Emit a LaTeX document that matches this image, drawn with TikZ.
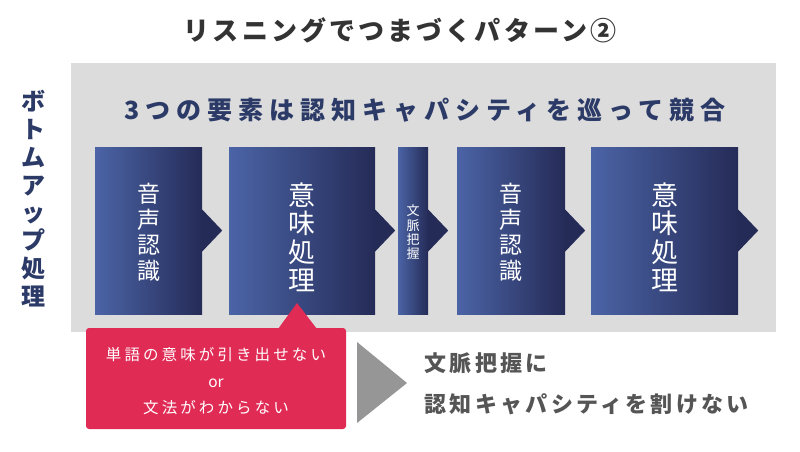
\documentclass[tikz,border=0pt]{standalone}
\usepackage{fontspec}
\setmainfont{Noto Sans CJK JP}
\newfontfamily\jpsp{Noto Sans CJK JP}[LetterSpace=12]
\newfontfamily\jpspr{Noto Sans CJK JP}[LetterSpace=15]
\newfontfamily\jpsph{Noto Sans CJK JP}[LetterSpace=24]
\newfontfamily\jpspw{Noto Sans CJK JP}[LetterSpace=20]
\definecolor{panelc}{HTML}{DCDCDC}
\definecolor{navyc}{HTML}{2B3A67}
\definecolor{boxL}{HTML}{4B64A6}
\definecolor{boxR}{HTML}{252B57}
\definecolor{redc}{HTML}{E02B55}
\definecolor{grayarrow}{HTML}{969696}
\definecolor{restext}{HTML}{555555}
\definecolor{titlec}{HTML}{333333}
\begin{document}
\begin{tikzpicture}[x=1pt,y=-1pt,
  stagebox/.style={rectangle, inner sep=0pt, left color=boxL, right color=boxR, minimum height=167},
  boxtext/.style={text=white, align=center},
  bigtxt/.style={font=\fontsize{23}{25.5}\selectfont},
  hugetxt/.style={font=\fontsize{27}{28.5}\selectfont},
  tinytxt/.style={font=\fontsize{13}{14.3}\selectfont},
  tipc/.style={fill=boxR},
]
\useasboundingbox (0,0) rectangle (800,451);
\fill[white] (0,0) rectangle (800,451);
\node[fill=panelc, minimum width=705, minimum height=269, inner sep=0pt, anchor=north west] (panel) at (71,63) {};

\node[text=titlec, font=\jpsp\bfseries\fontsize{26}{30}\selectfont] (title) at (400,30) {リスニングでつまづくパターン②};
\node[text=navyc, font=\jpsph\bfseries\fontsize{25}{30}\selectfont] (head) at (425,110) {3つの要素は認知キャパシティを巡って競合};
\node[text=navyc, font=\bfseries\fontsize{24}{27.8}\selectfont, align=center] (bu) at (33,198.5) {ボ\\ト\\ム\\ア\\ッ\\プ\\処\\理};

\node[stagebox, minimum width=107] (b1) at (148.5,230.5) {};
\node[stagebox, minimum width=146] (b2) at (302,230.5) {};
\node[stagebox, minimum width=30] (b3) at (413,230.5) {};
\node[stagebox, minimum width=108] (b4) at (511,230.5) {};
\node[stagebox, minimum width=147] (b5) at (664.5,230.5) {};

\node[boxtext, bigtxt] (t1) at ([yshift=-2pt]b1.center) {音\\声\\認\\識};
\node[boxtext, hugetxt] (t2) at ([yshift=-7pt]b2.center) {意\\味\\処\\理};
\node[boxtext, tinytxt] (t3) at ([yshift=-2pt]b3.center) {文\\脈\\把\\握};
\node[boxtext, bigtxt] (t4) at ([yshift=-2pt]b4.center) {音\\声\\認\\識};
\node[boxtext, hugetxt] (t5) at ([yshift=-7pt]b5.center) {意\\味\\処\\理};

\foreach \b in {b1,b2,b3,b4,b5}{
  \fill[tipc] ([yshift=21pt]\b.east) -- ([xshift=20pt]\b.east) -- ([yshift=-21pt]\b.east) -- cycle;
}

\node[fill=redc, rounded corners=3pt, minimum width=260, minimum height=101, inner sep=0pt] (call) at (216,378.5) {};
\fill[redc] (278,329) -- (297,303) -- (317,329) -- cycle;
\node[text=white, align=center, font=\fontsize{15.5}{26.5}\selectfont] (calltext) at (216,381.5) {{\jpspw 単語の意味が引き出せない}\\or\\{\jpspw 文法がわからない}};

\fill[grayarrow] (357,342) -- (407,383) -- (357,423) -- cycle;

\node[anchor=west, text=restext, font=\jpspr\bfseries\fontsize{22}{26}\selectfont] (res1) at (421,363) {文脈把握に};
\node[anchor=west, text=restext, font=\jpspr\bfseries\fontsize{22}{26}\selectfont] (res2) at (421,404) {認知キャパシティを割けない};
\end{tikzpicture}
\end{document}
